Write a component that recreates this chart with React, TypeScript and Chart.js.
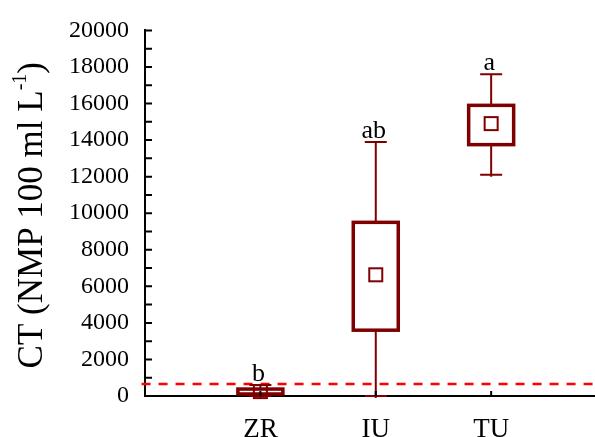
import React, { useEffect, useRef } from "react";
import { Chart, registerables } from "chart.js";

Chart.register(...registerables);

const categories = ["ZR", "IU", "TU"];
const mins = [0, 0, 12100];
const q1s = [110, 3600, 13750];
const q3s = [380, 9500, 15900];
const maxs = [600, 13900, 17600];
const means = [240, 6630, 14900];
const letters = ["b", "ab", "a"];
const threshold = 650;
const yTickValues = [0, 2000, 4000, 6000, 8000, 10000, 12000, 14000, 16000, 18000, 20000];

const DARK = "#7f0000";
const SERIF = "'Liberation Serif', 'Times New Roman', serif";

const boxPlugin = {
  id: "boxPlugin",
  afterDatasetsDraw(chart: any) {
    const ctx = chart.ctx;
    const xs = chart.scales.x;
    const ys = chart.scales.y;
    ctx.save();
    categories.forEach((c, i) => {
      const x = xs.getPixelForValue(i + 1);
      const pMin = ys.getPixelForValue(mins[i]);
      const pQ1 = ys.getPixelForValue(q1s[i]);
      const pQ3 = ys.getPixelForValue(q3s[i]);
      const pMax = ys.getPixelForValue(maxs[i]);
      const pMean = ys.getPixelForValue(means[i]);
      const hw = 22.5;
      const cw = 11;
      ctx.strokeStyle = DARK;
      ctx.lineWidth = 2;
      ctx.beginPath();
      ctx.moveTo(x, pMax);
      ctx.lineTo(x, pQ3);
      ctx.moveTo(x, pQ1);
      ctx.lineTo(x, pMin + 2);
      ctx.moveTo(x - cw, pMax);
      ctx.lineTo(x + cw, pMax);
      ctx.moveTo(x - cw, pMin);
      ctx.lineTo(x + cw, pMin);
      ctx.stroke();
      ctx.lineWidth = 3.5;
      ctx.fillStyle = "#ffffff";
      ctx.fillRect(x - hw, pQ3, hw * 2, pQ1 - pQ3);
      ctx.strokeRect(x - hw, pQ3, hw * 2, pQ1 - pQ3);
      ctx.lineWidth = 2;
      ctx.strokeRect(x - 6.5, pMean - 6.5, 13, 13);
      ctx.fillStyle = "#000";
      ctx.font = `26px ${SERIF}`;
      ctx.textAlign = "center";
      ctx.textBaseline = "alphabetic";
      ctx.fillText(letters[i], x - 2, pMax - 4);
    });
    // inward ticks
    ctx.strokeStyle = "#000";
    ctx.lineWidth = 2;
    const left = chart.chartArea.left;
    const bottom = chart.chartArea.bottom;
    ctx.beginPath();
    ys.ticks.forEach((t: any) => {
      const y = ys.getPixelForValue(t.value);
      ctx.moveTo(left, y);
      ctx.lineTo(left + 7, y);
    });
    categories.forEach((c, i) => {
      const x = xs.getPixelForValue(i + 1);
      ctx.moveTo(x, bottom);
      ctx.lineTo(x, bottom - 5);
    });
    ctx.stroke();
    ctx.restore();
  },
  afterDraw(chart: any) {
    const ctx = chart.ctx;
    const ys = chart.scales.y;
    const cy = (ys.top + ys.bottom) / 2 + 2;
    ctx.save();
    ctx.translate(42, cy);
    ctx.rotate(-Math.PI / 2);
    ctx.fillStyle = "#000";
    ctx.textBaseline = "alphabetic";
    ctx.textAlign = "left";
    const big = `35px ${SERIF}`;
    const small = `20px ${SERIF}`;
    const p1 = "CT (NMP 100 ml L";
    const p2 = "-1";
    const p3 = ")";
    ctx.font = big;
    const w1 = ctx.measureText(p1).width;
    const w3 = ctx.measureText(p3).width;
    ctx.font = small;
    const w2 = ctx.measureText(p2).width;
    const total = w1 + w2 + w3;
    let x = -total / 2;
    ctx.font = big;
    ctx.fillText(p1, x, 0);
    x += w1;
    ctx.font = small;
    ctx.fillText(p2, x, -16);
    x += w2;
    ctx.font = big;
    ctx.fillText(p3, x, 0);
    ctx.restore();
  },
};

export default function App() {
  const ref = useRef<HTMLCanvasElement>(null);
  useEffect(() => {
    if (!ref.current) return;
    const chart = new Chart(ref.current, {
      type: "scatter",
      data: {
        datasets: [
          {
            data: [
              { x: -0.03, y: threshold },
              { x: 3.9, y: threshold },
            ],
            showLine: true,
            borderColor: "#ff0000",
            borderWidth: 2.5,
            borderDash: [9, 8],
            pointRadius: 0,
            clip: false as any,
          },
        ],
      },
      options: {
        animation: false,
        responsive: false,
        maintainAspectRatio: false,
        events: [],
        layout: { padding: { top: 28, right: 0, left: 0, bottom: 0 } },
        plugins: { legend: { display: false }, tooltip: { enabled: false } },
        scales: {
          x: {
            type: "linear",
            min: 0,
            max: 3.9,
            afterBuildTicks: (s: any) => {
              s.ticks = categories.map((_, i) => ({ value: i + 1 }));
            },
            afterFit: (s: any) => {
              s.height = 41;
            },
            ticks: {
              color: "#000",
              font: { family: SERIF, size: 27 },
              padding: 18,
              maxRotation: 0,
              callback: (v: any) => categories[Math.round(v) - 1] ?? "",
            },
            grid: { drawOnChartArea: false, drawTicks: false },
            border: { color: "#000", width: 2 },
          },
          y: {
            type: "linear",
            min: 0,
            max: 20000,
            afterBuildTicks: (s: any) => {
              const t = [];
              for (let v = 0; v <= 20000; v += 1000) t.push({ value: v });
              s.ticks = t;
            },
            afterFit: (s: any) => {
              s.width = 145;
            },
            ticks: {
              color: "#000",
              font: { family: SERIF, size: 24 },
              padding: 16,
              autoSkip: false,
              callback: (v: any) => (yTickValues.includes(v) ? String(v) : ""),
            },
            grid: { drawOnChartArea: false, drawTicks: false },
            border: { color: "#000", width: 2 },
          },
        },
      },
      plugins: [boxPlugin],
    });
    return () => chart.destroy();
  }, []);
  return (
    <div style={{ position: "fixed", left: 0, top: 0, width: 595, height: 437, background: "#fff" }}>
      <canvas ref={ref} width={595} height={437} style={{ width: 595, height: 437 }} />
    </div>
  );
}
